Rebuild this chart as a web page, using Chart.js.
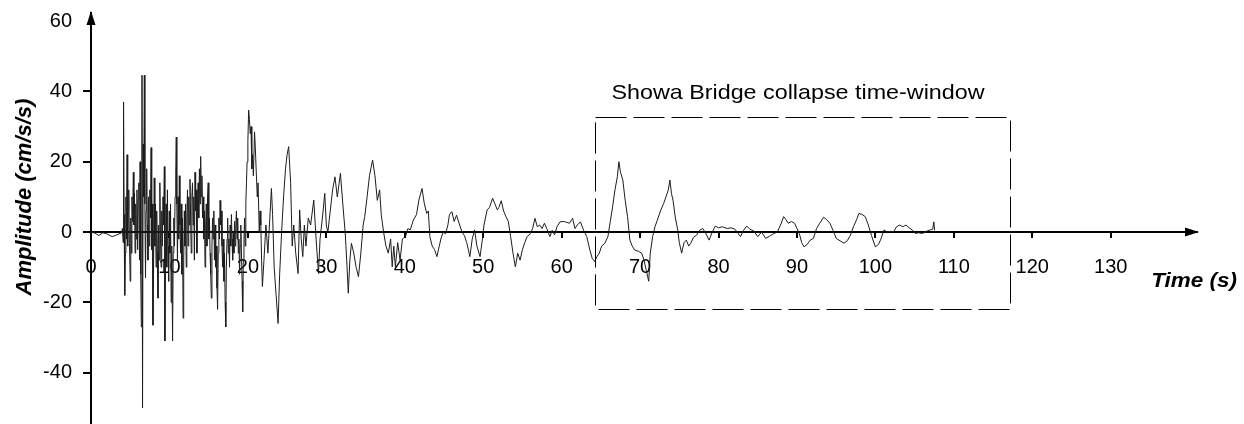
<!DOCTYPE html>
<html>
<head>
<meta charset="utf-8">
<script src="https://cdn.jsdelivr.net/npm/chart.js@4/dist/chart.umd.min.js"></script>
<style>
  html, body { margin: 0; padding: 0; background: #fff; }
  #wrap { width: 1244px; height: 424px; position: relative; }
</style>
</head>
<body>
<div id="wrap"><canvas id="quakeChart" width="1244" height="424"></canvas></div>
<script>
// time (s) and amplitude (cm/s/s)
const times = [
  0, 0.5, 1.0, 1.5, 2.0, 2.7, 3.3, 3.9,
  4.0, 4.1, 4.15, 4.22, 4.3, 4.38, 4.45, 4.52, 4.6, 4.68,
  4.75, 4.82, 4.9, 5.0, 5.07, 5.14, 5.22, 5.3, 5.4, 5.47,
  5.54, 5.62, 5.7, 5.78, 5.86, 5.94, 6.02, 6.1, 6.18, 6.26,
  6.34, 6.42, 6.5, 6.57, 6.65, 6.72, 6.8, 6.87, 6.95, 7.02,
  7.1, 7.18, 7.26, 7.34, 7.42, 7.5, 7.58, 7.66, 7.74, 7.82,
  7.9, 7.98, 8.06, 8.14, 8.22, 8.3, 8.38, 8.46, 8.54, 8.62,
  8.7, 8.78, 8.86, 8.94, 9.02, 9.1, 9.18, 9.26, 9.35, 9.42,
  9.5, 9.58, 9.66, 9.74, 9.82, 9.9, 9.98, 10.06, 10.14, 10.22,
  10.3, 10.4, 10.48, 10.56, 10.64, 10.72, 10.8, 10.87, 10.94, 11.02,
  11.1, 11.18, 11.26, 11.34, 11.42, 11.5, 11.58, 11.66, 11.74, 11.82,
  11.9, 11.98, 12.06, 12.14, 12.22, 12.3, 12.38, 12.46, 12.54, 12.62,
  12.7, 12.78, 12.86, 12.94, 13.02, 13.1, 13.18, 13.26, 13.34, 13.42,
  13.5, 13.58, 13.66, 13.74, 13.82, 13.9, 13.98, 14.06, 14.14, 14.22,
  14.3, 14.38, 14.46, 14.54, 14.62, 14.7, 14.78, 14.86, 14.94, 15.02,
  15.1, 15.18, 15.26, 15.34, 15.42, 15.5, 15.58, 15.66, 15.74, 15.82,
  15.9, 15.98, 16.06, 16.14, 16.22, 16.3, 16.38, 16.46, 16.54, 16.62,
  16.7, 16.78, 16.86, 16.94, 17.02, 17.1, 17.18, 17.26, 17.34, 17.42,
  17.5, 17.58, 17.66, 17.74, 17.82, 17.9, 17.98, 18.06, 18.14, 18.22,
  18.3, 18.38, 18.46, 18.54, 18.62, 18.7, 18.78, 18.86, 18.94, 19.02,
  19.1, 19.18, 19.26, 19.34, 19.42, 19.5, 19.58, 19.66, 19.74, 19.82,
  19.9, 20.0, 20.1, 20.2, 20.3, 20.4, 20.5, 20.6, 20.7, 20.85,
  20.95, 21.05, 21.2, 21.3, 21.45, 21.55, 21.65, 21.75, 21.85,
  22.05, 22.3, 22.55, 22.8,
  23.0, 23.15, 23.35, 23.6, 23.85, 24.05, 24.3, 24.55, 24.8, 25.0, 25.2, 25.45, 25.65, 25.85, 26.1, 26.4, 26.6, 26.8, 27.0, 27.2,
  27.4, 27.7, 28.0, 28.4, 28.7, 29.0, 29.2, 29.5, 29.8, 30.0, 30.2, 30.5, 30.8, 31.1, 31.4, 31.8, 32.1, 32.4, 32.6, 32.8,
  33.0, 33.2, 33.5, 33.8, 34.1, 34.4, 34.7, 34.9, 35.2, 35.5, 35.9, 36.2, 36.5, 36.8, 37.0, 37.3, 37.6, 37.9, 38.2, 38.4,
  38.6, 38.8, 39.1, 39.4, 39.7, 40.1, 40.4, 40.7, 41.1, 41.5, 41.8, 42.2, 42.5, 42.8, 43.0, 43.2, 43.5, 43.8, 44.1, 44.4,
  44.6, 44.9, 45.2, 45.5, 45.7, 46.0, 46.3, 46.6, 47.0, 47.3, 47.6, 47.9, 48.3, 48.6, 48.9, 49.2, 49.6, 49.9, 50.1, 50.5,
  50.8, 51.2, 51.5, 51.8, 52.0, 52.3, 52.6, 52.9, 53.2, 53.5, 53.8, 54.1, 54.4, 54.7, 55.0, 55.3, 55.6, 56.0, 56.3, 56.6,
  56.9, 57.2, 57.5, 57.8, 58.1, 58.5, 58.8, 59.1, 59.4, 59.8, 60.2, 60.6, 61.0, 61.4, 61.7, 62.0, 62.4, 62.8, 63.2, 63.6,
  63.9, 64.2, 64.5, 64.8, 65.1, 65.5, 65.9, 66.2, 66.5, 66.8, 67.1, 67.3, 67.5, 67.8, 68.1, 68.4, 68.7, 69.0, 69.3, 69.8,
  70.2, 70.5, 70.8, 71.1, 71.3, 71.6, 71.9, 72.2, 72.6, 73.0, 73.3, 73.6, 73.8, 74.0, 74.2, 74.5, 74.8, 75.0, 75.3, 75.6,
  75.9, 76.2, 76.5, 76.8, 77.2, 77.6, 78.0, 78.4, 78.8, 79.2, 79.6, 80.0, 80.5, 81.1, 81.6, 82.1, 82.8, 83.2, 83.6, 84.0,
  84.5, 85.0, 85.5, 86.0, 86.5, 87.0, 87.5, 88.0, 88.3, 88.6, 88.9, 89.3, 89.7, 90.0, 90.3, 90.6, 90.9, 91.3, 91.7, 92.1,
  92.5, 92.9, 93.4, 93.8, 94.2, 94.6, 95.0, 95.5, 96.0, 96.4, 96.8, 97.2, 97.6, 97.9, 98.3, 98.7, 99.1, 99.5, 100.0, 100.4,
  100.7, 101.1, 101.5, 101.9, 102.3, 102.7, 103.1, 103.5, 103.9, 104.3, 104.7, 105.1, 105.5, 106.0, 106.5, 107.0, 107.3, 107.45, 107.55
];
const amps = [
  0, -0.3, -1.0, -0.2, -0.5, -1.3, -0.8, -0.2,
  1, -3, 37, 5, -18, -6, 10, -2, 22, -4,
  6, 12, -3, -14, 4, -6, 10, 3, 17, 2,
  11, -6, 8, -2, 12, -5, 9, 14, -8, 20,
  -12, -27, 44.6, -50, 25, 10, 44.6, 8, -13, 6,
  18, 2, -8, 10, -4, 12, 4, 24, -5, 8,
  -26.5, -10, 15.4, -4, 8, -10, 6, -6, -18.8, 2,
  -8, 14, -2, -10, 6, -4, 10, 2, 18.6, -31,
  -6, 8, -10, 12, -4, -14, 6, -6, 8, -20,
  -4, -31, -6, 4, -4, 10, 16, 27, 8, -8,
  10, -2, 16, 2, -6, 8, -12, 4, -24.5, -8,
  6, -4, 8, -10, 4, 12, -4, 10, 2, 15,
  4, -6, 10, 14, 2, 10, -8, 17, 6, 12,
  -6, 8, 14, 4, 18, 8, 21.5, 10, 16, 4,
  10, -2, 6, -10, 2, 8, -4, 10, 14, -2,
  4, -6, -12, -18.8, -4, 4, -2, 6, -8, 2,
  -10, -4, -16, -22, -6, 4, -2, 9, 2, 6,
  -4, -10, -2, -14, -6, -20, -27, -10, -2, 4,
  -6, -2, -10, 2, -4, 5, -2, -8, 0, -6,
  3, -4, 2, 6, -2, 4, -6, -2, -12, -4,
  2, -6, -14, -22.7, -8, -2, 4, -4, 8, 14,
  20, 26, 34.7, 32, 28, 30, 18, 22, 16, 28.5,
  24, 18, 10, 14, 0, 6, 2, -8, -15.5,
  -8, 2, -6, 4,
  12.4, 5, -10, -18, -26, -12, 0, 10, 18, 22, 24.3, 14, -4, 2, -6, -11.8, 6.3, -2, -7, 2,
  -4, 4, 2, 9.1, -2, -11.8, -2, 4, 11, 2, 0, 6, 12, 15.7, 10, 16.7, 8, 0, -8, -17.4,
  -8, -3.2, -6, -10, -12.7, -6, 2, 4.4, 10, 16, 20.5, 16, 9, 12, 5, 0, -4, -6, -2, -9.9,
  -4, -9.9, -3, -8, -2, -1.3, 1, 0.6, 3.4, 5, 9.1, 12.4, 8, 5.3, 6, -1.3, -4, -5, -7, -4,
  -2, 0, -0.5, 2, 5, 5.8, 3, 4.8, 2, 0, -1, -3, -7, -2, 0.6, -4, -7, -2, 2, 6.3,
  7, 9.6, 8, 6.3, 7, 8.9, 6, 4.4, 3, -1.3, -6, -9.9, -6, -8, -5, -3, -1.3, -0.5, 1, 3.9,
  1.5, 2, 1, 2.5, 1, -1.3, 0.5, -0.8, 1.5, 2.9, 3, 2.8, 2.5, 3.9, 1, 2, 2.9, 0.5, -1.3, -5.1,
  -7.5, -8.4, -7, -6, -4, -3.2, -1.3, 3, 7.2, 12, 15.7, 20, 17, 14.8, 9, 4.4, -2.3, -4, -5.1, -5.5,
  -6, -8, -11, -14, -6, -1.3, 1.5, 3.4, 6, 8.1, 10, 12, 14.8, 11, 9, 4, 0.6, -3, -6, -3,
  -2.3, -4, -3, -1.5, -0.9, 0.5, 1, -0.5, -2.3, 0, 1.7, 1.2, 1.5, 1, 1.2, 0.8, -1.3, 0.5, 1.7, 0.8,
  0.3, -1.3, 0, -1.8, -1.2, -0.5, 0, 2.5, 4.4, 3.5, 2.5, 3, 2.5, 1, -0.4, -3, -4.2, -3.5, -2.3, -1.8,
  1, 2.5, 4.2, 3.5, 2.5, 0.5, -1.8, -2.5, -3.2, -2.5, -1, 1.5, 3.5, 5.3, 5, 4.4, 2, -1, -4.2, -3.5,
  -2, 0.6, 0, 0.2, 0, 1.5, 2, 1.5, 2, 1.2, 0.6, -0.4, -0.2, -0.4, 0.2, 0.6, 0.8, 2.9, 0.5
];
const xTicks = [0, 10, 20, 30, 40, 50, 60, 70, 80, 90, 100, 110, 120, 130];
const yTicks = [-40, -20, 0, 20, 40, 60];
// collapse window: [t0, t1] and [low, high]
const windowTimes = [64.3, 117.2];
const windowAmps = [-21.9, 32.7];
const windowLabel = 'Showa Bridge collapse time-window';

const FONT = "'Liberation Sans', Arial, sans-serif";

// stretched text, the source figure is a little wide
const wideText = (c, txt, x, y, sx) => {
  c.save();
  c.translate(x, y);
  c.scale(sx, 1);
  c.fillText(txt, 0, 0);
  c.restore();
};

const overlay = {
  id: 'overlay',
  afterDraw(chart){
    const c = chart.ctx;
    const xs = chart.scales.x, ys = chart.scales.y;
    const x0 = xs.getPixelForValue(0), y0 = ys.getPixelForValue(0);
    c.save();
    // arrow heads
    c.fillStyle = '#000';
    c.beginPath();
    c.moveTo(x0, chart.chartArea.top - 2);
    c.lineTo(x0 - 4.5, chart.chartArea.top + 12);
    c.lineTo(x0 + 4.5, chart.chartArea.top + 12);
    c.closePath(); c.fill();
    const xr = chart.chartArea.right;
    c.beginPath();
    c.moveTo(xr + 2, y0);
    c.lineTo(xr - 12, y0 - 4.5);
    c.lineTo(xr - 12, y0 + 4.5);
    c.closePath(); c.fill();

    // dashed window
    const l = xs.getPixelForValue(windowTimes[0]), r = xs.getPixelForValue(windowTimes[1]);
    const t = ys.getPixelForValue(windowAmps[1]), b = ys.getPixelForValue(windowAmps[0]);
    c.strokeStyle = '#000';
    c.lineWidth = 1;
    c.setLineDash([31, 7]);
    c.strokeRect(Math.round(l) + 0.5, Math.round(t) + 0.5, Math.round(r - l), Math.round(b - t));
    c.setLineDash([]);

    c.textAlign = 'center';
    c.textBaseline = 'middle';
    c.font = '21px ' + FONT;
    wideText(c, windowLabel, 798, 93, 1.11);

    // axis titles
    c.font = 'italic bold 21px ' + FONT;
    wideText(c, 'Time (s)', 1194, 281, 1.07);
    c.font = 'italic bold 22px ' + FONT;
    c.translate(25, 197);
    c.rotate(-Math.PI / 2);
    c.fillText('Amplitude (cm/s/s)', 0, 0);
    c.restore();
  }
};

const noPad = (s) => { s.paddingTop = 0; s.paddingBottom = 0; s.paddingLeft = 0; s.paddingRight = 0; };

const ctx = document.getElementById('quakeChart');
new Chart(ctx, {
  type: 'line',
  data: {
    datasets: [{
      data: times.map((t, i) => ({ x: t, y: amps[i] })),
      borderColor: '#1c1c1c',
      borderWidth: 1,
      pointRadius: 0,
      tension: 0,
      fill: false
    }]
  },
  options: {
    responsive: false,
    animation: false,
    events: [],
    layout: { padding: { left: 0, right: 47, top: 13, bottom: 0 } },
    plugins: { legend: { display: false }, tooltip: { enabled: false } },
    scales: {
      x: {
        type: 'linear',
        min: 0, max: 141,
        position: { y: 0 },
        border: { color: '#000', width: 2 },
        grid: { drawOnChartArea: false, color: '#000', lineWidth: 2, tickLength: 5 },
        afterBuildTicks: (s) => { s.ticks = xTicks.map(v => ({ value: v })); },
        afterFit: noPad,
        ticks: { color: '#000', font: { family: FONT, size: 20 }, padding: 18, maxRotation: 0, autoSkip: false }
      },
      y: {
        type: 'linear',
        min: -54.6, max: 62.3,
        position: 'left',
        border: { color: '#000', width: 2 },
        grid: {
          drawOnChartArea: false, lineWidth: 2, tickLength: 8,
          color: (g) => (g.tick && g.tick.value === 60) ? 'rgba(0,0,0,0)' : '#000'
        },
        afterBuildTicks: (s) => { s.ticks = yTicks.map(v => ({ value: v })); },
        afterFit: (s) => { noPad(s); s.width = 91; },
        ticks: { color: '#000', font: { family: FONT, size: 20 }, padding: 11, autoSkip: false }
      }
    }
  },
  plugins: [overlay]
});
</script>
</body>
</html>
